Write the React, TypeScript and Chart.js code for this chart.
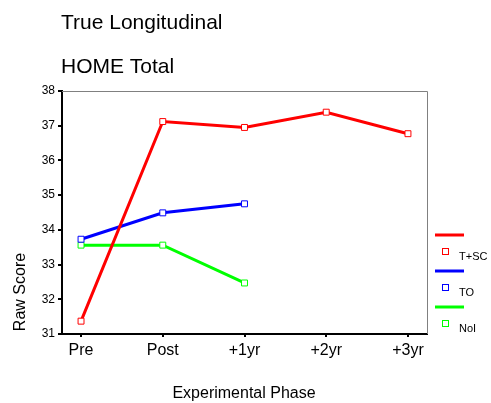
import React, { useEffect, useRef } from "react";
import { Chart, registerables } from "chart.js";

Chart.register(...registerables);

const categories = ["Pre", "Post", "+1yr", "+2yr", "+3yr"];
const seriesNames = ["T+SC", "TO", "NoI"];
const tscValues = [31.37, 37.12, 36.95, 37.39, 36.77];
const toValues = [33.73, 34.49, 34.75];
const noiValues = [33.56, 33.56, 32.47];
const yTicks = [31, 32, 33, 34, 35, 36, 37, 38];
const colors = ["#ff0000", "#0000ff", "#00ff00"];

const FONT = "'Liberation Sans', Arial, Helvetica, sans-serif";

const toPoints = (vals: number[]) => vals.map((v, i) => ({ x: i, y: v }));

const decorPlugin = {
  id: "decor",
  afterDraw(chart: any) {
    const { ctx, chartArea } = chart;
    ctx.save();
    // top and right frame
    ctx.strokeStyle = "#808080";
    ctx.lineWidth = 1;
    ctx.beginPath();
    ctx.moveTo(chartArea.left, chartArea.top + 0.5);
    ctx.lineTo(chartArea.right + 0.5, chartArea.top + 0.5);
    ctx.lineTo(chartArea.right + 0.5, chartArea.bottom);
    ctx.stroke();

    ctx.fillStyle = "#000";
    ctx.textAlign = "left";
    ctx.textBaseline = "alphabetic";
    ctx.font = `21px ${FONT}`;
    ctx.fillText("True Longitudinal", 61, 29);
    ctx.fillText("HOME Total", 61, 73);

    // axis titles
    ctx.font = `16px ${FONT}`;
    ctx.textAlign = "center";
    ctx.fillText("Experimental Phase", 244, 398);
    ctx.save();
    ctx.translate(25, 292);
    ctx.rotate(-Math.PI / 2);
    ctx.fillText("Raw Score", 0, 0);
    ctx.restore();

    // legend
    const rows = [235, 271, 307];
    ctx.font = `11px ${FONT}`;
    ctx.textAlign = "left";
    rows.forEach((y, i) => {
      ctx.strokeStyle = colors[i];
      ctx.lineWidth = 3;
      ctx.beginPath();
      ctx.moveTo(435, y);
      ctx.lineTo(464, y);
      ctx.stroke();
      ctx.lineWidth = 1;
      ctx.fillStyle = "#fff";
      ctx.fillRect(442, y + 13, 6, 6);
      ctx.strokeRect(442.5, y + 13.5, 6, 6);
      ctx.fillStyle = "#000";
      ctx.fillText(seriesNames[i], 459, y + 25);
    });
    ctx.restore();
  },
};

export default function App() {
  const ref = useRef<HTMLCanvasElement>(null);
  useEffect(() => {
    document.body.style.margin = "0";
    const values = [tscValues, toValues, noiValues];
    const chart = new Chart(ref.current!, {
      type: "line",
      data: {
        datasets: values.map((vals, i) => ({
          label: seriesNames[i],
          data: toPoints(vals),
          borderColor: colors[i],
          backgroundColor: "#ffffff",
          borderWidth: 3,
          pointStyle: "rect",
          pointRadius: 4.2,
          pointBorderWidth: 1,
          pointBorderColor: colors[i],
          pointBackgroundColor: "#ffffff",
          tension: 0,
        })),
      },
      options: {
        animation: false,
        responsive: false,
        events: [],
        layout: { padding: { left: 22, right: 64, top: 91, bottom: 41 } },
        plugins: { legend: { display: false }, tooltip: { enabled: false }, title: { display: false } },
        scales: {
          x: {
            type: "linear",
            min: -0.233,
            max: 4.233,
            afterFit: (s: any) => { s.height = 28; },
            afterBuildTicks: (s: any) => { s.ticks = categories.map((_, i) => ({ value: i })); },
            ticks: {
              autoSkip: false,
              color: "#000",
              font: { family: FONT, size: 16 },
              padding: 4,
              callback: (v: any) => categories[Math.round(v)] ?? "",
            },
            grid: { drawOnChartArea: false, drawTicks: true, tickLength: 3, color: "#000", lineWidth: 2 },
            border: { display: true, color: "#000", width: 2 },
          },
          y: {
            min: 31,
            max: 38,
            afterFit: (s: any) => { s.width = 40; },
            afterBuildTicks: (s: any) => { s.ticks = yTicks.map((v) => ({ value: v })); },
            ticks: { color: "#000", font: { family: FONT, size: 12 }, padding: 3 },
            grid: { drawOnChartArea: false, drawTicks: true, tickLength: 4, color: "#000", lineWidth: 2 },
            border: { display: true, color: "#000", width: 2 },
          },
        },
      },
      plugins: [decorPlugin],
    } as any);
    return () => chart.destroy();
  }, []);
  return <canvas ref={ref} width={491} height={403} style={{ display: "block" }} />;
}
